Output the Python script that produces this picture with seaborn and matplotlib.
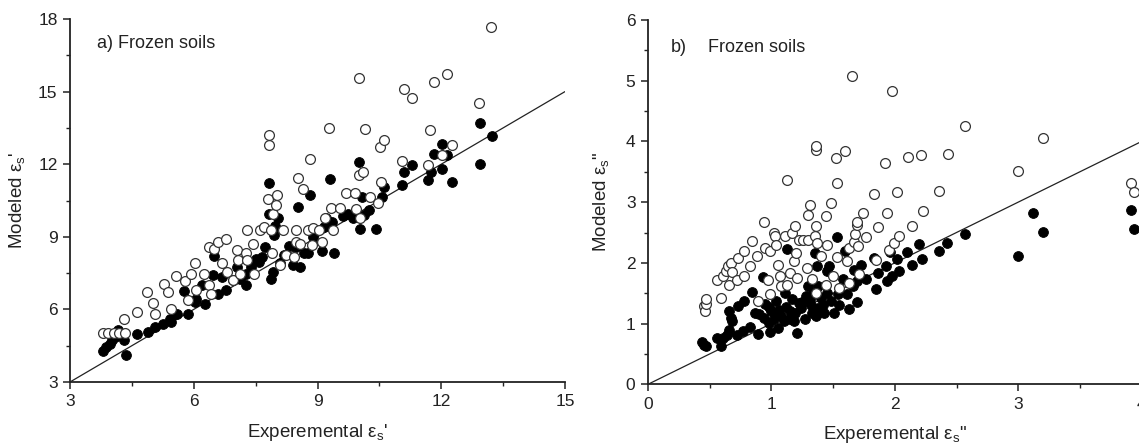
import matplotlib
matplotlib.use("Agg")
import matplotlib.pyplot as plt
import seaborn as sns
import numpy as np
from matplotlib.ticker import MultipleLocator

sns.set_style("ticks")
plt.rcParams['font.family'] = ['Liberation Sans', 'DejaVu Sans']
plt.rcParams['mathtext.fontset'] = 'custom'
plt.rcParams['mathtext.rm'] = 'Liberation Sans'

# ---------------- Panel a) real part ----------------
a_filled_x = [3.79, 3.88, 3.97, 4.03, 4.10, 4.17, 4.30, 4.36, 4.63, 4.89, 5.05, 5.25, 5.43, 5.45,
              5.60, 5.77, 5.87, 6.02, 6.06, 6.20, 6.28, 6.46, 6.49, 6.59, 6.68, 6.77, 7.04, 7.12,
              7.26, 7.27, 7.39, 7.57, 7.65, 7.72, 7.83, 7.87, 7.92, 7.94, 7.98, 8.05, 7.83, 8.09,
              8.20, 8.40, 8.49, 8.52, 8.58, 8.67, 8.78, 8.83, 8.89, 9.11, 9.15, 9.21, 9.30, 9.36,
              9.40, 9.61, 9.73, 9.87, 10.00, 10.04, 10.07, 10.13, 10.26, 10.43, 10.57, 10.61,
              11.05, 11.09, 11.30, 11.67, 11.74, 11.83, 12.02, 12.02, 12.14, 12.25, 12.93, 12.93,
              13.22, 6.95, 7.50, 8.30]
a_filled_y = [4.28, 4.45, 4.59, 4.72, 4.85, 5.14, 4.72, 4.10, 5.00, 5.07, 5.27, 5.41, 5.62, 5.48,
              5.80, 6.75, 5.83, 6.31, 6.45, 7.00, 6.24, 7.41, 8.20, 6.65, 7.34, 6.79, 7.76, 7.27,
              7.00, 7.48, 7.76, 7.96, 8.17, 8.58, 11.23, 7.27, 7.55, 9.07, 9.44, 9.76, 9.96, 7.90,
              8.24, 7.83, 8.58, 10.24, 7.76, 8.31, 8.31, 10.72, 9.00, 8.42, 9.41, 9.76, 11.37, 9.62,
              8.34, 9.85, 9.96, 9.76, 12.10, 9.34, 10.65, 9.89, 10.10, 9.34, 10.65, 11.07,
              11.13, 11.69, 11.96, 11.34, 11.69, 12.44, 11.82, 12.83, 12.38, 11.27, 13.71, 11.99,
              13.16, 7.20, 8.10, 8.60]

a_open_x = [3.79, 3.93, 4.06, 4.19, 4.34, 4.32, 4.63, 4.87, 5.00, 5.05, 5.27, 5.38, 5.45, 5.58,
            5.78, 5.87, 5.93, 6.03, 6.06, 6.24, 6.37, 6.37, 6.42, 6.50, 6.59, 6.68, 6.77, 6.81,
            6.95, 7.04, 7.08, 7.12, 7.26, 7.30, 7.30, 7.43, 7.46, 7.61, 7.70, 7.79, 7.83, 7.83,
            7.87, 7.90, 7.92, 7.99, 8.03, 8.08, 8.17, 8.23, 8.43, 8.47, 8.49, 8.52, 8.58, 8.64,
            8.76, 8.82, 8.86, 8.90, 9.03, 9.11, 9.18, 9.28, 9.33, 9.38, 9.55, 9.68, 9.90, 9.93,
            10.00, 10.00, 10.02, 10.11, 10.14, 10.28, 10.46, 10.52, 10.55, 10.61, 11.04, 11.10,
            11.30, 11.67, 11.73, 11.83, 12.02, 12.15, 12.25, 12.91, 13.20]
a_open_y = [5.03, 5.03, 5.03, 5.03, 5.03, 5.62, 5.90, 6.72, 6.27, 5.79, 7.04, 6.72, 6.03, 7.38,
            7.16, 6.38, 7.48, 7.90, 6.79, 7.48, 7.00, 8.58, 6.65, 8.51, 8.79, 7.90, 8.89, 7.55,
            7.20, 8.44, 8.03, 7.48, 8.31, 9.27, 8.03, 8.72, 7.48, 9.27, 9.41, 10.58, 12.79, 13.20,
            9.27, 8.31, 9.96, 10.30, 10.72, 7.83, 9.27, 8.24, 8.17, 8.79, 9.27, 11.41, 8.72, 10.96,
            9.27, 12.20, 8.65, 9.37, 9.27, 8.79, 9.76, 13.48, 10.21, 9.30, 10.17, 10.79, 10.79, 10.14,
            15.57, 11.55, 9.76, 11.66, 13.45, 10.63, 10.38, 12.72, 11.27, 12.99, 12.13, 15.10,
            14.75, 11.96, 13.41, 15.40, 12.38, 15.73, 12.79, 14.51, 17.66]

# ---------------- Panel b) imaginary part ----------------
b_filled_x = [0.44, 0.45, 0.47, 0.56, 0.59, 0.61, 0.64, 0.66, 0.66, 0.67, 0.68, 0.72, 0.73, 0.77,
              0.78, 0.83, 0.84, 0.87, 0.89, 0.93, 0.94, 0.95, 0.98, 0.99, 1.00, 1.02, 1.04, 1.05,
              1.06, 1.08, 1.10, 1.11, 1.13, 1.15, 1.17, 1.19, 1.21, 1.22, 1.24, 1.27, 1.28, 1.30,
              1.31, 1.33, 1.34, 1.35, 1.36, 1.37, 1.38, 1.40, 1.43, 1.45, 1.47, 1.48, 1.51, 1.53,
              1.54, 1.58, 1.60, 1.61, 1.63, 1.66, 1.67, 1.69, 1.69, 1.73, 1.77, 1.83, 1.85, 1.86,
              1.93, 1.94, 1.96, 1.98, 2.02, 2.03, 2.10, 2.14, 2.20, 2.22, 2.36, 2.42, 2.57, 3.00,
              3.12, 3.20, 3.915, 3.94,
              1.05, 1.12, 1.25, 1.32, 1.42, 1.18, 0.98, 1.45, 1.55, 0.90, 1.15, 1.38]
b_filled_y = [0.70, 0.64, 0.63, 0.77, 0.63, 0.77, 0.82, 0.90, 1.21, 1.10, 1.04, 0.82, 1.29, 0.87,
              1.37, 0.94, 1.52, 1.18, 0.83, 1.77, 1.10, 1.32, 1.01, 0.86, 1.21, 1.07, 1.37, 0.93,
              1.23, 1.12, 1.04, 1.51, 2.23, 1.07, 1.40, 1.18, 0.85, 1.34, 1.26, 1.08, 1.45, 1.62,
              1.40, 1.18, 1.50, 2.16, 1.12, 1.95, 1.62, 1.42, 1.18, 1.86, 1.95, 1.37, 1.17, 2.42,
              1.48, 1.73, 2.20, 1.48, 1.24, 1.62, 1.89, 1.36, 1.70, 1.96, 1.74, 2.08, 1.57, 1.84,
              1.95, 1.70, 2.18, 1.78, 2.07, 1.86, 2.18, 1.96, 2.31, 2.07, 2.19, 2.32, 2.47, 2.12,
              2.82, 2.51, 2.87, 2.56,
              1.15, 1.28, 1.35, 1.30, 1.30, 1.05, 1.28, 1.50, 1.30, 1.15, 1.20, 1.25]

b_open_x = [0.45, 0.46, 0.47, 0.47, 0.56, 0.59, 0.61, 0.63, 0.65, 0.66, 0.67, 0.68, 0.72, 0.73,
            0.78, 0.78, 0.83, 0.84, 0.88, 0.89, 0.94, 0.95, 0.97, 0.99, 0.99, 1.02, 1.03, 1.04,
            1.05, 1.07, 1.08, 1.11, 1.13, 1.13, 1.15, 1.17, 1.18, 1.19, 1.20, 1.21, 1.22, 1.26,
            1.29, 1.30, 1.31, 1.30, 1.33, 1.35, 1.36, 1.36, 1.36, 1.36, 1.37, 1.40, 1.44, 1.44,
            1.45, 1.48, 1.50, 1.52, 1.53, 1.53, 1.55, 1.60, 1.61, 1.63, 1.63, 1.65, 1.67, 1.68,
            1.69, 1.69, 1.70, 1.71, 1.74, 1.77, 1.83, 1.85, 1.86, 1.92, 1.94, 1.95, 1.98, 1.99,
            2.02, 2.03, 2.11, 2.14, 2.21, 2.23, 2.36, 2.43, 2.57, 3.00, 3.20, 3.915, 3.94]
b_open_y = [1.29, 1.21, 1.33, 1.40, 1.71, 1.42, 1.78, 1.86, 1.95, 1.63, 2.00, 1.85, 1.71, 2.08,
            1.79, 2.19, 1.95, 2.36, 2.11, 1.37, 2.67, 2.24, 1.72, 2.19, 1.48, 2.49, 2.44, 2.30,
            1.97, 1.78, 1.62, 2.44, 3.37, 1.64, 1.84, 2.49, 2.03, 2.60, 2.16, 1.75, 2.37, 2.38,
            1.92, 2.79, 2.96, 2.38, 1.74, 2.45, 3.86, 3.92, 2.60, 1.51, 2.33, 2.11, 2.77, 1.64,
            2.30, 2.98, 1.79, 3.73, 3.32, 2.10, 1.59, 3.85, 2.03, 1.67, 2.25, 5.07, 2.34, 2.47,
            2.62, 2.68, 2.27, 1.81, 2.82, 2.43, 3.14, 2.05, 2.59, 3.65, 2.82, 2.22, 4.83, 2.32,
            3.16, 2.45, 3.74, 2.61, 3.77, 2.85, 3.19, 3.79, 4.25, 3.52, 4.05, 3.32, 3.16]

diag_a = [3, 15]
diag_b = [0, 4]

W, H = 1139, 446
fig = plt.figure(figsize=(W / 100, H / 100), dpi=100)
ax1 = fig.add_axes([70 / W, (H - 382) / H, 495 / W, 363 / H])
ax2 = fig.add_axes([648 / W, (H - 384.3) / H, 493.6 / W, 364.3 / H])

ms = 50
for ax, fx, fy, ox, oy, dg in [(ax1, a_filled_x, a_filled_y, a_open_x, a_open_y, diag_a),
                               (ax2, b_filled_x, b_filled_y, b_open_x, b_open_y, diag_b)]:
    sns.lineplot(x=dg, y=dg, ax=ax, color='#222222', linewidth=0.9, zorder=1)
    sns.scatterplot(x=fx, y=fy, ax=ax, color='black', edgecolor='black', linewidth=0.6,
                    s=ms, zorder=2, legend=False)
    sns.scatterplot(x=ox, y=oy, ax=ax, color='white', edgecolor='#333333', linewidth=0.9,
                    s=ms, zorder=3, legend=False)
    for s in ['top', 'right']:
        ax.spines[s].set_visible(False)
    for s in ['left', 'bottom']:
        ax.spines[s].set_linewidth(1.3)
        ax.spines[s].set_color('#222222')
    ax.tick_params(which='major', direction='out', length=5, width=1.1, labelsize=12.5,
                   colors='#222222', pad=4)
    ax.tick_params(which='minor', direction='out', length=3, width=1.0, colors='#222222')

ax1.set_xlim(3, 15)
ax1.set_ylim(3, 18)
ax1.xaxis.set_major_locator(MultipleLocator(3))
ax1.xaxis.set_minor_locator(MultipleLocator(1.5))
ax1.yaxis.set_major_locator(MultipleLocator(3))
ax1.yaxis.set_minor_locator(MultipleLocator(1.5))

ax2.set_xlim(0, 4)
ax2.set_ylim(0, 6)
ax2.xaxis.set_major_locator(MultipleLocator(1))
ax2.xaxis.set_minor_locator(MultipleLocator(0.5))
ax2.yaxis.set_major_locator(MultipleLocator(1))
ax2.yaxis.set_minor_locator(MultipleLocator(0.5))

lab_fs = 13.5
ax1.set_xlabel("Experemental ε$_\\mathregular{s}$'", fontsize=lab_fs, labelpad=9, color='#222222')
ax1.set_ylabel("Modeled ε$_\\mathregular{s}$'", fontsize=lab_fs, labelpad=7, color='#222222')
ax2.set_xlabel('Experemental ε$_\\mathregular{s}$"', fontsize=lab_fs, labelpad=9, color='#222222')
ax2.set_ylabel('Modeled ε$_\\mathregular{s}$"', fontsize=lab_fs, labelpad=10, color='#222222')

fig.text(97 / W, 1 - 43 / H, "a) Frozen soils", fontsize=13, va='center', ha='left', color='#222222')
fig.text(671 / W, 1 - 48 / H, "b)", fontsize=13, va='center', ha='left', color='#222222')
fig.text(708 / W, 1 - 48 / H, "Frozen soils", fontsize=13, va='center', ha='left', color='#222222')

fig.savefig("out.png", dpi=100, facecolor='white')
